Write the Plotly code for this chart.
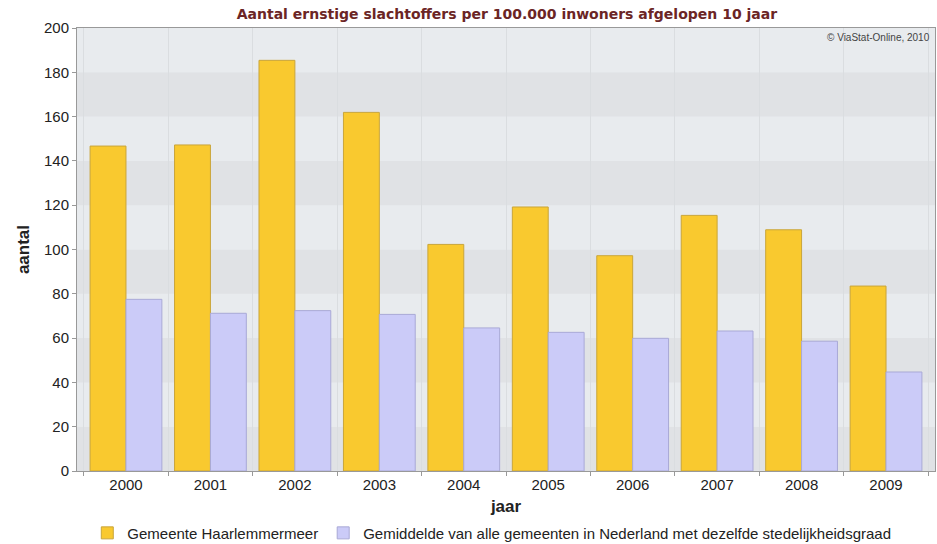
import plotly.graph_objects as go

years = ["2000", "2001", "2002", "2003", "2004", "2005", "2006", "2007", "2008", "2009"]
haarlemmermeer = [146.7, 147.2, 185.4, 161.9, 102.3, 119.2, 97.2, 115.4, 108.9, 83.5]
gemiddelde = [77.5, 71.2, 72.4, 70.7, 64.6, 62.6, 59.9, 63.2, 58.6, 44.7]
y_ticks = [0, 20, 40, 60, 80, 100, 120, 140, 160, 180, 200]

name_a = "Gemeente Haarlemmermeer"
name_b = "Gemiddelde van alle gemeenten in Nederland met dezelfde stedelijkheidsgraad"
title = "Aantal ernstige slachtoffers per 100.000 inwoners afgelopen 10 jaar"

fig = go.Figure()
fig.add_trace(go.Bar(x=years, y=haarlemmermeer, name=name_a,
                     marker=dict(color="#F9C92F", line=dict(color="#C9A53A", width=1))))
fig.add_trace(go.Bar(x=years, y=gemiddelde, name=name_b,
                     marker=dict(color="#CBCBF8", line=dict(color="#A9A9D6", width=1))))

# alternating horizontal bands
shapes = []
for i in range(len(y_ticks) - 1):
    lo, hi = y_ticks[i], y_ticks[i + 1]
    col = "#E0E2E5" if i % 2 == 0 else "#E8EBEE"
    shapes.append(dict(type="rect", xref="paper", yref="y", x0=0, x1=1, y0=lo, y1=hi,
                       fillcolor=col, line=dict(width=0), layer="below"))

fig.update_layout(
    width=937, height=544,
    margin=dict(l=77, r=2, t=28, b=73),
    paper_bgcolor="white", plot_bgcolor="#E8EBEE",
    barmode="group", bargap=0.15, bargroupgap=0,
    shapes=shapes,
    title=dict(text="<b>" + title + "</b>", x=0.541, xanchor="center", y=0.975, yanchor="middle",
               font=dict(family="DejaVu Sans", size=14, color="#6B2525")),
    font=dict(family="Liberation Sans, Arial", color="#222"),
    showlegend=True,
    legend=dict(orientation="h", x=0.012, xanchor="left", yref="container", y=0.02, yanchor="middle",
                font=dict(size=15, color="#222"), itemwidth=30, traceorder="normal",
                bgcolor="rgba(0,0,0,0)"),
    annotations=[dict(text="© ViaStat-Online, 2010", xref="paper", yref="paper", x=0.997, y=0.995,
                      xanchor="right", yanchor="top", showarrow=False,
                      font=dict(family="Liberation Sans, Arial", size=10, color="#444"))],
)

fig.update_xaxes(type="category", range=[-0.58, 9.58], tickson="boundaries",
                 showgrid=True, gridcolor="#DADDE0", gridwidth=1,
                 ticks="outside", ticklen=4, tickcolor="#999",
                 showline=True, linecolor="#999", mirror=True,
                 tickfont=dict(size=15, color="#222"),
                 title=dict(text="<b>jaar</b>", font=dict(size=17, color="#222"), standoff=8))
fig.update_yaxes(range=[0, 200], tickvals=y_ticks, showgrid=False, zeroline=False,
                 ticks="outside", ticklen=4, tickcolor="#999",
                 showline=True, linecolor="#999", mirror=True,
                 tickfont=dict(size=15, color="#222"),
                 title=dict(text="<b>aantal</b>", font=dict(size=17, color="#222"), standoff=10))

fig.write_html("out.html")
